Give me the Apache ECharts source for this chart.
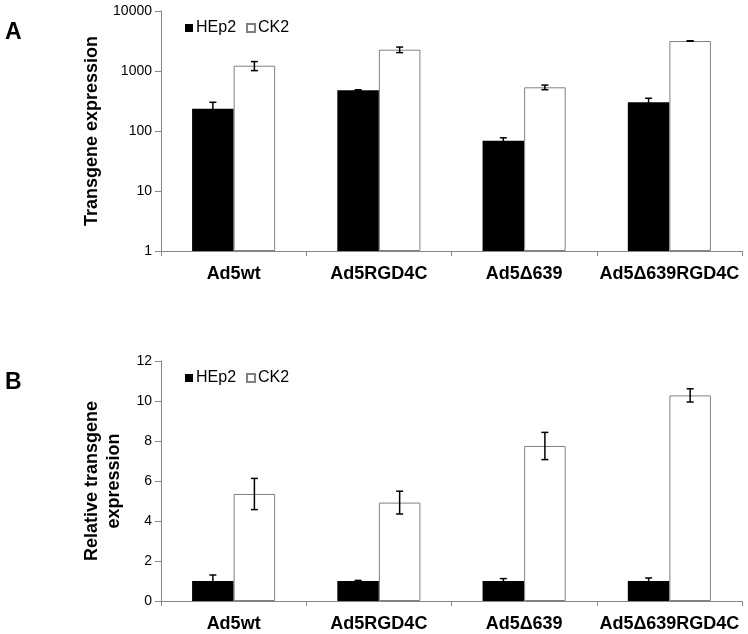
<!DOCTYPE html>
<html>
<head>
<meta charset="utf-8">
<script src="https://cdn.jsdelivr.net/npm/echarts@6/dist/echarts.min.js"></script>
<style>
  html, body { margin: 0; padding: 0; background: #fff; }
  #chart { width: 748px; height: 634px; }
</style>
</head>
<body>
<div id="chart"></div>
<script>
// data
const categories = ['Ad5wt', 'Ad5RGD4C', 'Ad5\u0394639', 'Ad5\u0394639RGD4C'];
const seriesNames = ['HEp2', 'CK2'];

// panel A: transgene expression (log scale)
const hep2Expr = [235, 477, 69, 301];
const hep2ExprErr = [66, 10, 8, 50];
const ck2Expr = [1225, 2265, 535, 3162];
const ck2ExprErr = [210, 240, 47, 30];

// panel B: relative transgene expression
const hep2Rel = [1, 1, 1, 1];
const hep2RelErr = [0.3, 0.03, 0.12, 0.15];
const ck2Rel = [5.35, 4.92, 7.75, 10.28];
const ck2RelErr = [0.78, 0.57, 0.68, 0.33];

const FONT = 'Arial, "Liberation Sans", sans-serif';
const AXIS_GREY = '#868686';
const BAR_FRAC = 0.286;

const chart = echarts.init(document.getElementById('chart'), null, {renderer: 'canvas'});

const toErrData = (vals, errs) => vals.map((v, i) => [i, v, errs[i]]);

// error bar drawn at the bar's offset inside the category band
const errorRender = (side) => (params, api) => {
    const idx = api.value(0);
    const val = api.value(1);
    const err = api.value(2);
    const band = api.coord([1, val])[0] - api.coord([0, val])[0];
    const dx = side * band * BAR_FRAC / 2;
    const hi = api.coord([idx, val + err]);
    const lo = api.coord([idx, val - err]);
    const x = hi[0] + dx;
    const cap = 3.5;
    const style = {stroke: '#000', lineWidth: 1.5};
    return {
        type: 'group',
        children: [
            {type: 'line', shape: {x1: x, y1: hi[1], x2: x, y2: lo[1]}, style},
            {type: 'line', shape: {x1: x - cap, y1: hi[1], x2: x + cap, y2: hi[1]}, style},
            {type: 'line', shape: {x1: x - cap, y1: lo[1], x2: x + cap, y2: lo[1]}, style},
        ],
    };
};

const makeXAxis = (gridIndex) => ({
    type: 'category',
    gridIndex,
    data: categories,
    axisLine: {onZero: false, lineStyle: {color: AXIS_GREY, width: 1}},
    axisTick: {show: true, length: 5, lineStyle: {color: AXIS_GREY}},
    axisLabel: {
        interval: 0,
        hideOverlap: false,
        color: '#000',
        fontFamily: FONT,
        fontWeight: 'bold',
        fontSize: 18,
        margin: 14,
    },
});

const yLabel = {color: '#000', fontFamily: FONT, fontSize: 14, margin: 9};

const barSeries = (name, axisIndex, data, isBlack) => ({
    type: 'bar',
    name,
    xAxisIndex: axisIndex,
    yAxisIndex: axisIndex,
    data,
    barWidth: (BAR_FRAC * 100) + '%',
    barGap: '0%',
    itemStyle: isBlack
        ? {color: '#000'}
        : {color: '#fff', borderColor: '#808080', borderWidth: 1},
    z: 2,
});

const errSeries = (axisIndex, vals, errs, side) => ({
    type: 'custom',
    xAxisIndex: axisIndex,
    yAxisIndex: axisIndex,
    data: toErrData(vals, errs),
    encode: {x: 0, y: 1},
    renderItem: errorRender(side),
    z: 5,
});

const makeLegend = (top) => ({
    data: seriesNames,
    left: 180,
    top,
    icon: 'rect',
    itemWidth: 8,
    itemHeight: 8,
    itemGap: 10,
    textStyle: {fontFamily: FONT, fontSize: 16, color: '#000', padding: [0, 0, 0, -2]},
    selectedMode: false,
});

const option = {
    animation: false,
    backgroundColor: '#fff',
    grid: [
        {left: 161, top: 11, width: 581, height: 240},
        {left: 161, top: 361, width: 581, height: 240},
    ],
    legend: [makeLegend(15), makeLegend(365)],
    xAxis: [makeXAxis(0), makeXAxis(1)],
    yAxis: [
        {
            type: 'log',
            gridIndex: 0,
            logBase: 10,
            min: 1,
            max: 10000,
            name: 'Transgene expression',
            nameLocation: 'middle',
            nameGap: 60,
            nameTextStyle: {fontFamily: FONT, fontWeight: 'bold', fontSize: 18, color: '#000'},
            axisLine: {show: true, lineStyle: {color: AXIS_GREY}},
            axisTick: {show: true, length: 6, lineStyle: {color: AXIS_GREY}},
            axisLabel: {...yLabel, formatter: (v) => String(Math.round(v))},
            splitLine: {show: false},
            minorTick: {show: false},
        },
        {
            type: 'value',
            gridIndex: 1,
            min: 0,
            max: 12,
            interval: 2,
            name: 'Relative transgene\nexpression',
            nameLocation: 'middle',
            nameGap: 32,
            nameTextStyle: {fontFamily: FONT, fontWeight: 'bold', fontSize: 18, color: '#000', lineHeight: 22},
            axisLine: {show: true, lineStyle: {color: AXIS_GREY}},
            axisTick: {show: true, length: 6, lineStyle: {color: AXIS_GREY}},
            axisLabel: yLabel,
            splitLine: {show: false},
        },
    ],
    graphic: [
        {type: 'text', left: 5, top: 21, style: {text: 'A', font: 'bold 23px ' + FONT, fill: '#000'}},
        {type: 'text', left: 5, top: 371, style: {text: 'B', font: 'bold 23px ' + FONT, fill: '#000'}},
    ],
    series: [
        barSeries('HEp2', 0, hep2Expr, true),
        barSeries('CK2', 0, ck2Expr, false),
        errSeries(0, hep2Expr, hep2ExprErr, -1),
        errSeries(0, ck2Expr, ck2ExprErr, 1),
        barSeries('HEp2', 1, hep2Rel, true),
        barSeries('CK2', 1, ck2Rel, false),
        errSeries(1, hep2Rel, hep2RelErr, -1),
        errSeries(1, ck2Rel, ck2RelErr, 1),
    ],
};

chart.setOption(option);
</script>
</body>
</html>
